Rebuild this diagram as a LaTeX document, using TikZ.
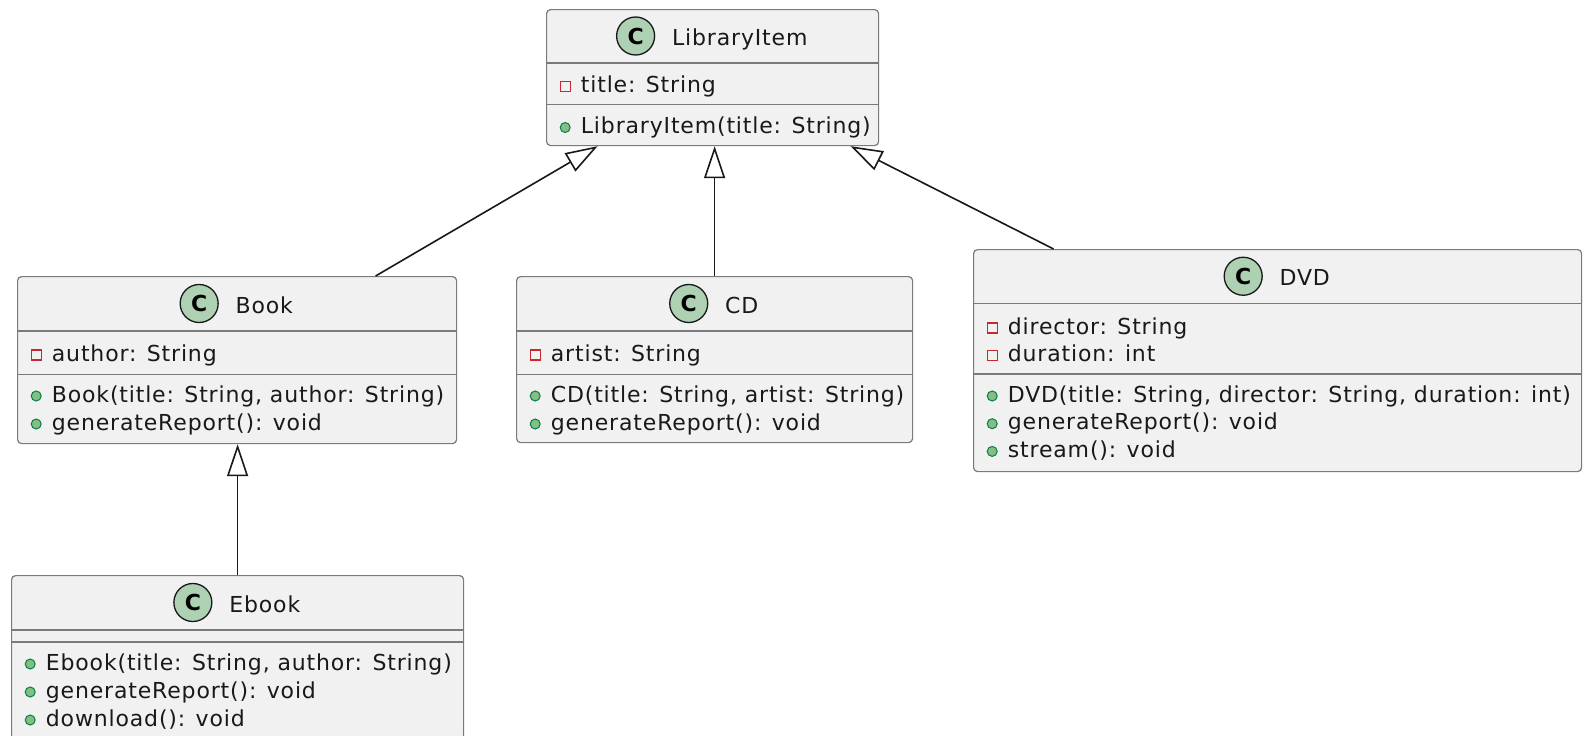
\documentclass[tikz,border=0pt]{standalone}
\usepackage{fontspec}
\setmainfont{DejaVu Sans}[LetterSpace=3.8]
\newfontfamily\iconfont{DejaVu Sans}
\usetikzlibrary{arrows.meta,calc}
\definecolor{boxfill}{HTML}{F1F1F1}
\definecolor{boxline}{HTML}{7A7A7A}
\definecolor{iconfill}{HTML}{ADD1B2}
\definecolor{pubfill}{HTML}{84BE84}
\definecolor{publine}{HTML}{038048}
\definecolor{privline}{HTML}{C82930}
\definecolor{edgecol}{HTML}{181818}
\newcommand\fsz{\fontsize{22}{26}\selectfont}
\begin{document}
\begin{tikzpicture}[x=1pt,y=-1pt,
  cls/.style={draw=boxline, fill=boxfill, line width=1.2pt, rounded corners=4pt, rectangle, inner sep=0pt, anchor=north west},
  sepline/.style={draw=boxline, line width=1.2pt},
  mem/.style={anchor=base west, inner sep=0pt, font=\fsz, text=black!90},
  ttl/.style={anchor=base, inner sep=0pt, font=\fsz, text=black!90},
  cicon/.style={circle, fill=iconfill, draw=edgecol, line width=1.3pt, minimum size=38pt, inner sep=0pt, font=\iconfont\bfseries\fontsize{22}{22}\selectfont},
  pub/.style={circle, fill=pubfill, draw=publine, line width=1pt, minimum size=10pt, inner sep=0pt},
  priv/.style={rectangle, draw=privline, fill=boxfill, line width=1.1pt, minimum size=10pt, inner sep=0pt},
  inh/.style={draw=edgecol, line width=1.6pt, -{Triangle[length=32pt, width=21pt, fill=white]}}
]
\useasboundingbox (0,0) rectangle (1583,736);

% ---- LibraryItem
\node[cls, minimum width=332pt, minimum height=136pt] (lib) at (546,9) {};
\draw[sepline] (546,63) -- (878,63);
\draw[sepline] (546,104.5) -- (878,104.5);
\node[ttl] (libT) at (739.8,45.5) {LibraryItem};
\node[cicon] (libC) at ($(libT.base west)+(-36.3pt,9.5pt)$) {C};
\node[priv] (libA1) at (565.2,86.5) {};
\node[mem] (libA1t) at (580.7,92.5) {title: String};
\node[pub] (libM1) at (565.2,127.5) {};
\node[mem] (libM1t) at (580.7,133.5) {LibraryItem(title: String)};

% ---- Book
\node[cls, minimum width=439pt, minimum height=167pt] (book) at (17,276) {};
\draw[sepline] (17,331) -- (456,331);
\draw[sepline] (17,374.5) -- (456,374.5);
\node[ttl] (bookT) at (264.3,313) {Book};
\node[cicon] (bookC) at ($(bookT.base west)+(-36.3pt,9.5pt)$) {C};
\node[priv] (bookA1) at (36.2,355) {};
\node[mem] (bookA1t) at (51.7,361) {author: String};
\node[pub] (bookM1) at (36.2,396) {};
\node[mem] (bookM1t) at (51.7,402) {Book(title: String, author: String)};
\node[pub] (bookM2) at (36.2,424) {};
\node[mem] (bookM2t) at (51.7,430) {generateReport(): void};

% ---- CD
\node[cls, minimum width=396pt, minimum height=166pt] (cd) at (516,276) {};
\draw[sepline] (516,331) -- (912,331);
\draw[sepline] (516,374.5) -- (912,374.5);
\node[ttl] (cdT) at (741.8,313) {CD};
\node[cicon] (cdC) at ($(cdT.base west)+(-36.3pt,9.5pt)$) {C};
\node[priv] (cdA1) at (535.2,355) {};
\node[mem] (cdA1t) at (550.7,361) {artist: String};
\node[pub] (cdM1) at (535.2,396) {};
\node[mem] (cdM1t) at (550.7,402) {CD(title: String, artist: String)};
\node[pub] (cdM2) at (535.2,424) {};
\node[mem] (cdM2t) at (550.7,430) {generateReport(): void};

% ---- DVD
\node[cls, minimum width=608pt, minimum height=222pt] (dvd) at (973,249) {};
\draw[sepline] (973,303.5) -- (1581,303.5);
\draw[sepline] (973,374) -- (1581,374);
\node[ttl] (dvdT) at (1304.8,285.75) {DVD};
\node[cicon] (dvdC) at ($(dvdT.base west)+(-36.3pt,9.5pt)$) {C};
\node[priv] (dvdA1) at (992.2,328) {};
\node[mem] (dvdA1t) at (1007.7,334) {director: String};
\node[priv] (dvdA2) at (992.2,355.7) {};
\node[mem] (dvdA2t) at (1007.7,361.7) {duration: int};
\node[pub] (dvdM1) at (992.2,396) {};
\node[mem] (dvdM1t) at (1007.7,402) {DVD(title: String, director: String, duration: int)};
\node[pub] (dvdM2) at (992.2,423.7) {};
\node[mem] (dvdM2t) at (1007.7,429.7) {generateReport(): void};
\node[pub] (dvdM3) at (992.2,451.4) {};
\node[mem] (dvdM3t) at (1007.7,457.4) {stream(): void};

% ---- Ebook
\node[cls, minimum width=452pt, minimum height=164pt] (ebook) at (11,575) {};
\draw[sepline] (11,630) -- (463,630);
\draw[sepline] (11,642) -- (463,642);
\node[ttl] (ebookT) at (264.8,612) {Ebook};
\node[cicon] (ebookC) at ($(ebookT.base west)+(-36.3pt,9.5pt)$) {C};
\node[pub] (ebookM1) at (30.2,664) {};
\node[mem] (ebookM1t) at (45.7,670) {Ebook(title: String, author: String)};
\node[pub] (ebookM2) at (30.2,692) {};
\node[mem] (ebookM2t) at (45.7,698) {generateReport(): void};
\node[pub] (ebookM3) at (30.2,720) {};
\node[mem] (ebookM3t) at (45.7,726) {download(): void};

% ---- inheritance
\draw[inh] ([xshift=138.5pt]book.north) -- ([xshift=-115pt]lib.south);
\draw[inh] (cd.north) -- (cd.north |- lib.south);
\draw[inh] ([xshift=-224pt]dvd.north) -- ([xshift=138pt]lib.south);
\draw[inh] (ebook.north) -- (ebook.north |- book.south);
\end{tikzpicture}
\end{document}
